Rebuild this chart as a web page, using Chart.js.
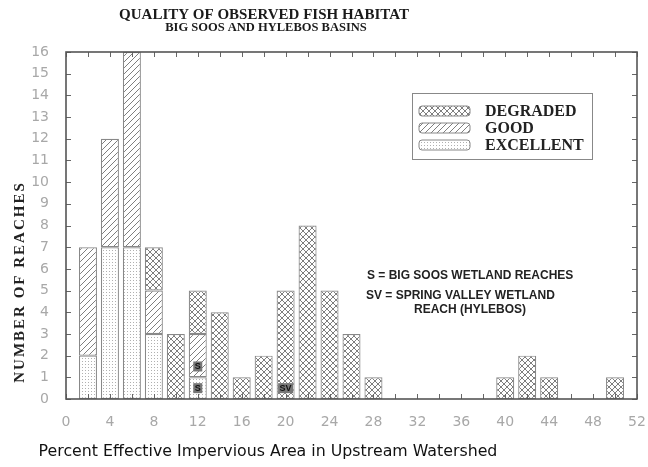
<!DOCTYPE html>
<html>
<head>
<meta charset="utf-8">
<script src="https://cdn.jsdelivr.net/npm/chart.js@4/dist/chart.umd.min.js"></script>
<style>
  html, body { margin: 0; padding: 0; background: #fff; }
</style>
</head>
<body>
<canvas id="chart" width="648" height="467"></canvas>
<script>
// percent EIA bin centres (2% bins)
const xCenters = [2, 4, 6, 8, 10, 12, 14, 16, 18, 20, 22, 24, 26, 28, 30, 32, 34, 36, 38, 40, 42, 44, 46, 48, 50];
const excellent = [2, 7, 7, 3, 0, 1, 0, 0, 0, 0, 0, 0, 0, 0, 0, 0, 0, 0, 0, 0, 0, 0, 0, 0, 0];
const good      = [5, 5, 9, 2, 0, 2, 0, 0, 0, 0, 0, 0, 0, 0, 0, 0, 0, 0, 0, 0, 0, 0, 0, 0, 0];
const degraded  = [0, 0, 0, 2, 3, 2, 4, 1, 2, 5, 8, 5, 3, 1, 0, 0, 0, 0, 0, 1, 2, 1, 0, 0, 1];

const xTickStep = 4;
const yTickStep = 1;

// wetland reach markers
const markerX = [12, 12, 20];
const markerY = [0.5, 1.5, 0.5];
const markerText = ["S", "S", "SV"];

const legendLabels = ["DEGRADED", "GOOD", "EXCELLENT"];

function makePattern(kind) {
    let c = document.createElement("canvas");
    let g = c.getContext("2d");
    if (kind == "dots") {
        c.width = 3; c.height = 3;
        g.fillStyle = "#fff";
        g.fillRect(0, 0, 3, 3);
        g.fillStyle = "#b0b0b0";
        g.fillRect(1, 1, 1, 1);
    } else {
        c.width = 6; c.height = 6;
        g.fillStyle = "#fff";
        g.fillRect(0, 0, 6, 6);
        g.strokeStyle = "#7e7e7e";
        g.lineWidth = 1;
        g.beginPath();
        g.moveTo(-1, 7); g.lineTo(7, -1);
        g.moveTo(-1, 1); g.lineTo(1, -1);
        g.moveTo(5, 7); g.lineTo(7, 5);
        if (kind == "cross") {
            g.moveTo(-1, -1); g.lineTo(7, 7);
            g.moveTo(5, -1); g.lineTo(7, 1);
            g.moveTo(-1, 5); g.lineTo(1, 7);
        }
        g.stroke();
    }
    let ctx = document.getElementById("chart").getContext("2d");
    return ctx.createPattern(c, "repeat");
}

const patDegraded = makePattern("cross");
const patGood = makePattern("hatch");
const patExcellent = makePattern("dots");

function toPoints(arr) {
    return xCenters.map((x, i) => ({ x: x, y: arr[i] })).filter((p) => p.y > 0);
}

const decor = {
    id: "decor",
    afterDatasetsDraw(chart) {
        const ctx = chart.ctx;
        const a = chart.chartArea;
        const xs = chart.scales.x;
        const ys = chart.scales.y;
        ctx.save();

        // inward ticks
        ctx.strokeStyle = "#666";
        ctx.lineWidth = 1;
        ctx.beginPath();
        for (let v = xs.min; v <= xs.max; v += 2) {
            let px = Math.round(xs.getPixelForValue(v)) + 0.5;
            ctx.moveTo(px, a.bottom); ctx.lineTo(px, a.bottom - 5);
            ctx.moveTo(px, a.top); ctx.lineTo(px, a.top + 5);
        }
        for (let v = ys.min; v <= ys.max; v += yTickStep) {
            let py = Math.round(ys.getPixelForValue(v)) + 0.5;
            ctx.moveTo(a.left, py); ctx.lineTo(a.left + 5, py);
            ctx.moveTo(a.right, py); ctx.lineTo(a.right - 5, py);
        }
        ctx.stroke();

        // frame
        ctx.strokeStyle = "#555";
        ctx.lineWidth = 1.6;
        ctx.strokeRect(a.left, a.top, a.right - a.left, a.bottom - a.top);

        // S / SV markers
        ctx.font = "bold 9px 'Liberation Sans', Arial, sans-serif";
        ctx.textAlign = "center";
        ctx.textBaseline = "middle";
        for (let i = 0; i < markerText.length; i++) {
            let px = xs.getPixelForValue(markerX[i]);
            let py = ys.getPixelForValue(markerY[i]);
            let w = ctx.measureText(markerText[i]).width + 3;
            ctx.fillStyle = "#777";
            ctx.fillRect(px - w / 2, py - 5, w, 10);
            ctx.fillStyle = "#111";
            ctx.fillText(markerText[i], px, py + 0.5);
        }

        // legend box
        let lx = a.left + 346, ly = a.top + 41;
        ctx.fillStyle = "#fff";
        ctx.fillRect(lx, ly, 180, 66);
        ctx.strokeStyle = "#888";
        ctx.lineWidth = 1;
        ctx.strokeRect(lx + 0.5, ly + 0.5, 180, 66);
        const pats = [patDegraded, patGood, patExcellent];
        ctx.font = "bold 16px 'Liberation Serif', 'Times New Roman', serif";
        ctx.textAlign = "left";
        ctx.textBaseline = "middle";
        for (let i = 0; i < 3; i++) {
            let ry = ly + 18 + i * 17;
            ctx.fillStyle = pats[i];
            ctx.beginPath();
            ctx.roundRect(lx + 7, ry - 5, 51, 10, 3);
            ctx.fill();
            ctx.strokeStyle = "#888";
            ctx.stroke();
            ctx.fillStyle = "#222";
            ctx.fillText(legendLabels[i], lx + 73, ry + 1);
        }

        // wetland notes
        ctx.font = "bold 12px 'Liberation Sans', Arial, sans-serif";
        ctx.fillStyle = "#222";
        ctx.textAlign = "left";
        ctx.fillText("S = BIG SOOS WETLAND REACHES", a.left + 301, a.top + 224);
        ctx.fillText("SV = SPRING VALLEY WETLAND", a.left + 300, a.top + 244);
        ctx.textAlign = "center";
        ctx.fillText("REACH (HYLEBOS)", a.left + 404, a.top + 258);
        ctx.restore();
    },
    afterDraw(chart) {
        const ctx = chart.ctx;
        ctx.save();
        ctx.fillStyle = "#1a1a1a";
        ctx.textAlign = "center";
        ctx.textBaseline = "middle";
        ctx.font = "bold 15px 'Liberation Serif', 'Times New Roman', serif";
        ctx.fillText("QUALITY OF OBSERVED FISH HABITAT", 264, 15);
        ctx.font = "bold 12.5px 'Liberation Serif', 'Times New Roman', serif";
        ctx.fillText("BIG SOOS AND HYLEBOS BASINS", 266, 28);

        ctx.font = "15.8px 'DejaVu Sans', Verdana, sans-serif";
        ctx.fillStyle = "#111";
        ctx.fillText("Percent Effective Impervious Area in Upstream Watershed", 268, 452);

        ctx.translate(20, 282);
        ctx.rotate(-Math.PI / 2);
        ctx.font = "bold 15px 'Liberation Serif', 'Times New Roman', serif";
        ctx.letterSpacing = "2px";
        ctx.fillStyle = "#222";
        ctx.fillText("NUMBER OF REACHES", 0, 0);
        ctx.restore();
    }
};

const tickFont = { family: "'DejaVu Sans', sans-serif", size: 14 };

new Chart(document.getElementById("chart"), {
    type: "bar",
    data: {
        datasets: [
            { label: "EXCELLENT", data: toPoints(excellent), backgroundColor: patExcellent },
            { label: "GOOD", data: toPoints(good), backgroundColor: patGood },
            { label: "DEGRADED", data: toPoints(degraded), backgroundColor: patDegraded },
        ],
    },
    options: {
        responsive: false,
        animation: false,
        layout: { padding: { top: 52, right: 11, left: 0, bottom: 0 } },
        datasets: {
            bar: {
                borderColor: "#888",
                borderWidth: 1.2,
                borderSkipped: false,
                categoryPercentage: 1,
                barPercentage: 0.82,
            },
        },
        plugins: {
            legend: { display: false },
            tooltip: { enabled: false },
        },
        scales: {
            x: {
                type: "linear",
                offset: false,
                stacked: true,
                min: 0,
                max: 52,
                grid: { display: false, offset: false },
                border: { display: false },
                ticks: { stepSize: xTickStep, color: "#a8a8a8", font: tickFont, padding: 7 },
                afterFit(s) { s.height = 68; s.paddingLeft = 0; s.paddingRight = 0; },
            },
            y: {
                stacked: true,
                min: 0,
                max: 16,
                grid: { display: false },
                border: { display: false },
                ticks: { stepSize: yTickStep, color: "#a8a8a8", font: tickFont, padding: 9 },
                afterFit(s) { s.width = 66; s.paddingTop = 0; s.paddingBottom = 0; },
            },
        },
    },
    plugins: [decor],
});
</script>
</body>
</html>
